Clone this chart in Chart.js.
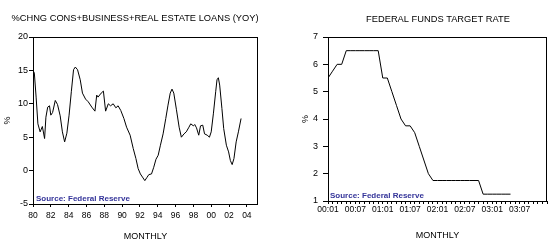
<!DOCTYPE html>
<html>
<head>
<meta charset="utf-8">
<script src="https://cdn.jsdelivr.net/npm/chart.js@4/dist/chart.umd.min.js"></script>
<style>
  html, body { margin: 0; padding: 0; background: #fff; overflow: hidden; }
  #wrap { position: relative; width: 550px; height: 250px; }
  #loans { position: absolute; left: 0; top: 0; }
  #fed { position: absolute; left: 275px; top: 0; }
</style>
</head>
<body>
<div id="wrap">
  <canvas id="loans" width="275" height="250"></canvas>
  <canvas id="fed" width="275" height="250"></canvas>
</div>
<script>
// left panel: yoy % change in loans (decimal year, value)
const loanYears = [1980.0, 1980.15, 1980.35, 1980.55, 1980.8, 1981.05, 1981.3, 1981.45, 1981.65, 1981.85,
  1982.0, 1982.2, 1982.5, 1982.75, 1983.05, 1983.3, 1983.55, 1983.8, 1984.05, 1984.3,
  1984.55, 1984.75, 1985.0, 1985.3, 1985.55, 1985.9, 1986.2, 1986.6, 1986.95, 1987.15,
  1987.3, 1987.65, 1987.9, 1988.15, 1988.45, 1988.7, 1989.0, 1989.3, 1989.55, 1989.85,
  1990.2, 1990.5, 1990.9, 1991.25, 1991.55, 1991.8, 1992.05, 1992.35, 1992.55, 1992.8,
  1993.0, 1993.3, 1993.55, 1993.8, 1994.05, 1994.3, 1994.6, 1994.9, 1995.15, 1995.4,
  1995.6, 1995.8, 1996.1, 1996.4, 1996.65, 1996.95, 1997.2, 1997.5, 1997.7, 1998.0,
  1998.15, 1998.35, 1998.6, 1998.8, 1999.05, 1999.25, 1999.55, 1999.8, 2000.0, 2000.25,
  2000.5, 2000.65, 2000.8, 2000.95, 2001.2, 2001.4, 2001.7, 2001.95, 2002.15, 2002.35,
  2002.55, 2002.8, 2003.05, 2003.35]
const loanChange = [15.0, 14.6, 11.0, 7.0, 5.8, 6.6, 4.8, 8.0, 9.5, 9.7,
  8.3, 8.7, 10.5, 9.9, 8.2, 5.8, 4.3, 5.6, 8.3, 11.8,
  15.1, 15.5, 15.1, 13.6, 11.6, 10.7, 10.3, 9.5, 8.9, 11.3,
  11.0, 11.6, 11.9, 8.9, 10.0, 9.7, 10.0, 9.4, 9.7, 9.0,
  7.8, 6.5, 5.3, 3.3, 1.8, 0.3, -0.5, -1.1, -1.5, -1.0,
  -0.6, -0.5, 0.5, 1.7, 2.3, 3.8, 5.5, 7.8, 9.8, 11.6,
  12.2, 11.6, 9.1, 6.5, 5.0, 5.5, 5.8, 6.5, 7.0, 6.7,
  6.9, 6.4, 5.3, 6.7, 6.8, 5.5, 5.3, 5.0, 5.8, 8.6,
  11.8, 13.6, 13.9, 12.8, 9.3, 6.3, 3.8, 2.8, 1.5, 0.9,
  1.8, 4.3, 5.8, 7.8]
const loanTicks = [-5, 0, 5, 10, 15, 20]
const loanTickYears = [1980, 1982, 1984, 1986, 1988, 1990, 1992, 1994, 1996, 1998, 2000, 2002, 2004]

// right panel: fed funds target, monthly from 2000:01 to 2003:05
const fedRate = [5.5, 5.75, 6.0, 6.0, 6.5, 6.5, 6.5, 6.5, 6.5, 6.5, 6.5, 6.5,
  5.5, 5.5, 5.0, 4.5, 4.0, 3.75, 3.75, 3.5, 3.0, 2.5, 2.0, 1.75,
  1.75, 1.75, 1.75, 1.75, 1.75, 1.75, 1.75, 1.75, 1.75, 1.75, 1.25, 1.25,
  1.25, 1.25, 1.25, 1.25, 1.25]
const fedStart = 2000
const fedTicks = [1, 2, 3, 4, 5, 6, 7]
const fedLabelMonths = [0, 6, 12, 18, 24, 30, 36, 42]

const fam = '"Liberation Sans", Arial, sans-serif'

// title, frame round the plot and the source note
const boxPlugin = {
  id: 'boxNote',
  afterDraw(chart, args, opts) {
    const a = chart.chartArea
    const ctx = chart.ctx
    ctx.save()
    ctx.strokeStyle = '#000'
    ctx.lineWidth = 1
    ctx.strokeRect(Math.round(a.left) + 0.5, Math.round(a.top) + 0.5,
      Math.round(a.right - a.left) - 1, Math.round(a.bottom - a.top))
    ctx.fillStyle = '#000'
    ctx.font = '9.3px ' + fam
    ctx.textAlign = 'center'
    ctx.textBaseline = 'middle'
    ctx.fillText(opts.title, opts.tx, opts.ty)
    ctx.fillStyle = '#333399'
    ctx.font = 'bold 8px ' + fam
    ctx.textAlign = 'left'
    ctx.textBaseline = 'alphabetic'
    ctx.fillText(opts.text, a.left + opts.dx, a.bottom - opts.dy)
    ctx.restore()
  }
}

function axisGrid(len) {
  return { display: true, drawOnChartArea: false, drawTicks: true, tickLength: len, color: '#000' }
}

new Chart(document.getElementById('loans'), {
  type: 'line',
  data: {
    datasets: [{
      data: loanYears.map((x, i) => ({ x: x, y: loanChange[i] })),
      borderColor: '#000',
      borderWidth: 1,
      pointRadius: 0,
      tension: 0
    }]
  },
  options: {
    responsive: false,
    animation: false,
    devicePixelRatio: 1,
    layout: { padding: { left: 0, right: 17, top: 37, bottom: 0 } },
    plugins: {
      legend: { display: false },
      tooltip: { enabled: false },
      title: { display: false },
      boxNote: {
        title: '%CHNG CONS+BUSINESS+REAL ESTATE LOANS (YOY)', tx: 135, ty: 18,
        text: 'Source: Federal Reserve', dx: 3, dy: 3
      }
    },
    scales: {
      x: {
        type: 'linear',
        min: 1980,
        max: 2005.25,
        afterBuildTicks: s => { s.ticks = loanTickYears.map(v => ({ value: v })) },
        afterFit: s => { s.height = 46 },
        grid: axisGrid(3),
        border: { display: false },
        ticks: {
          autoSkip: false,
          maxRotation: 0,
          padding: 4,
          color: '#000',
          font: { family: fam, size: 8.5 },
          callback: v => String(v % 100).padStart(2, '0')
        },
        title: {
          display: true,
          text: 'MONTHLY',
          color: '#000',
          font: { family: fam, size: 9 },
          padding: { top: 0, bottom: 8 }
        }
      },
      y: {
        min: -5,
        max: 20,
        afterBuildTicks: s => { s.ticks = loanTicks.map(v => ({ value: v })) },
        afterFit: s => { s.width = 33 },
        grid: axisGrid(4),
        border: { display: false },
        ticks: { color: '#000', padding: 1, font: { family: fam, size: 9 } },
        title: {
          display: true,
          text: '%',
          color: '#000',
          font: { family: fam, size: 9 },
          padding: { top: 2.6, bottom: 0 }
        }
      }
    }
  },
  plugins: [boxPlugin]
})

new Chart(document.getElementById('fed'), {
  type: 'line',
  data: {
    datasets: [{
      data: fedRate.map((y, i) => ({ x: i, y: y })),
      borderColor: '#000',
      borderWidth: 1,
      pointRadius: 0,
      tension: 0
    }]
  },
  options: {
    responsive: false,
    animation: false,
    devicePixelRatio: 1,
    layout: { padding: { left: 25, right: 3, top: 37, bottom: 0 } },
    plugins: {
      legend: { display: false },
      tooltip: { enabled: false },
      title: { display: false },
      boxNote: {
        title: 'FEDERAL FUNDS TARGET RATE', tx: 163, ty: 19.5,
        text: 'Source: Federal Reserve', dx: 2, dy: 3
      }
    },
    scales: {
      x: {
        type: 'linear',
        min: 0,
        max: 48,
        afterFit: s => { s.height = 49 },
        grid: axisGrid(3),
        border: { display: false },
        ticks: {
          stepSize: 1,
          autoSkip: false,
          maxRotation: 0,
          padding: 1,
          color: '#000',
          font: { family: fam, size: 8.5 },
          callback: v => {
            if (!fedLabelMonths.includes(v)) return ''
            const yy = String((fedStart + Math.floor(v / 12)) % 100).padStart(2, '0')
            const mm = String(v % 12 + 1).padStart(2, '0')
            return yy + ':' + mm
          }
        },
        title: {
          display: true,
          text: 'MONTHLY',
          color: '#000',
          font: { family: fam, size: 9 },
          padding: { top: 0, bottom: 9 }
        }
      },
      y: {
        min: 1,
        max: 7,
        afterBuildTicks: s => { s.ticks = fedTicks.map(v => ({ value: v })) },
        afterFit: s => { s.width = 28 },
        grid: axisGrid(5),
        border: { display: false },
        ticks: { color: '#000', padding: 5, font: { family: fam, size: 9 } },
        title: {
          display: true,
          text: '%',
          color: '#000',
          font: { family: fam, size: 9 },
          padding: { top: 0, bottom: 0 }
        }
      }
    }
  },
  plugins: [boxPlugin]
})
</script>
</body>
</html>
